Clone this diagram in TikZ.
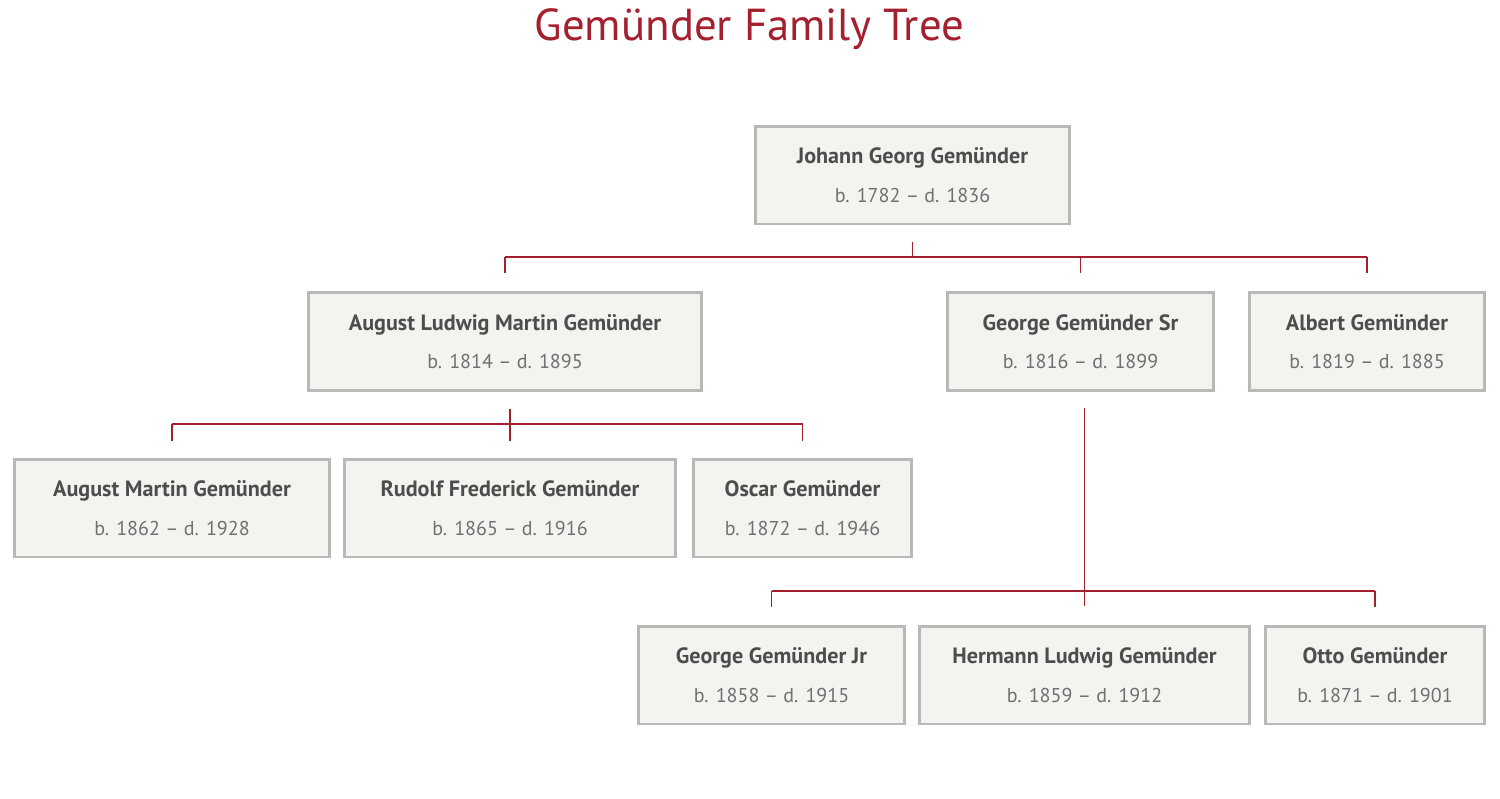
\documentclass[tikz,border=0pt]{standalone}
\usepackage{fontspec}
\setmainfont{PT Sans}
\usepackage{xcolor}
\usepackage{tikz}
\usetikzlibrary{positioning}

\definecolor{treered}{RGB}{165,32,46}
\definecolor{boxfill}{RGB}{244,243,239}
\definecolor{boxline}{RGB}{184,184,184}
\definecolor{namegray}{RGB}{77,77,77}
\definecolor{dategray}{RGB}{112,112,112}

\newcommand{\famentry}[2]{{\fontsize{12.6}{13}\selectfont\bfseries\color{namegray}#1}\\[9pt]{\color{dategray}#2}}

\begin{document}
\begin{tikzpicture}[
    x=0.02cm, y=-0.02cm,
    person/.style={rectangle, draw=boxline, fill=boxfill, line width=1.7pt, minimum height=1.96cm, inner sep=0pt, align=center, font=\fontsize{11.4}{13}\selectfont},
    link/.style={draw=treered, line width=1.1pt}
]
    \useasboundingbox (0,0) rectangle (1500,798);

    \node (title) [anchor=base, text=treered, font=\fontsize{25.5}{30}\selectfont] at (749.5,40) {Gemünder Family Tree};

    % generation 1
    \node (johann) [person, minimum width=6.28cm] at (912.5,175) {\famentry{Johann Georg Gemünder}{b. 1782 -- d. 1836}};

    % generation 2
    \node (august) [person, minimum width=7.86cm] at (505,341.5) {\famentry{August Ludwig Martin Gemünder}{b. 1814 -- d. 1895}};
    \node (georgesr) [person, minimum width=5.32cm] at (1080.5,341.5) {\famentry{George Gemünder Sr}{b. 1816 -- d. 1899}};
    \node (albert) [person, minimum width=4.7cm] at (1367,341.5) {\famentry{Albert Gemünder}{b. 1819 -- d. 1885}};

    % generation 3
    \node (amartin) [person, minimum width=6.3cm] at (172,508) {\famentry{August Martin Gemünder}{b. 1862 -- d. 1928}};
    \node (rudolf) [person, minimum width=6.62cm] at (510,508) {\famentry{Rudolf Frederick Gemünder}{b. 1865 -- d. 1916}};
    \node (oscar) [person, minimum width=4.36cm] at (802.5,508) {\famentry{Oscar Gemünder}{b. 1872 -- d. 1946}};

    \node (georgejr) [person, minimum width=5.32cm] at (771.5,675) {\famentry{George Gemünder Jr}{b. 1858 -- d. 1915}};
    \node (hermann) [person, minimum width=6.6cm] at (1084.5,675) {\famentry{Hermann Ludwig Gemünder}{b. 1859 -- d. 1912}};
    \node (otto) [person, minimum width=4.38cm] at (1375,675) {\famentry{Otto Gemünder}{b. 1871 -- d. 1901}};

    \coordinate (bus1) at (0,257);
    \coordinate (bus2) at (0,424);
    \coordinate (bus3) at (0,591);

    % Johann's children
    \draw [link] (johann.south) ++(0,17) -- (johann.south |- bus1);
    \draw [link] (august.north |- bus1) -- (albert.north |- bus1);
    \foreach \child in {august, georgesr, albert}
        \draw [link] (\child.north |- bus1) -- ++(0,16);

    % August Ludwig's children
    \draw [link] (rudolf.north |- august.south) ++(0,17) -- ++(0,32);
    \draw [link] (amartin.north |- bus2) -- (oscar.north |- bus2);
    \foreach \child in {amartin, oscar}
        \draw [link] (\child.north |- bus2) -- ++(0,17);

    % George Sr's children
    \draw [link] (hermann.north |- georgesr.south) ++(0,16) -- ++(0,198);
    \draw [link] (georgejr.north |- bus3) -- (otto.north |- bus3);
    \foreach \child in {georgejr, otto}
        \draw [link] (\child.north |- bus3) -- ++(0,16);
\end{tikzpicture}
\end{document}
